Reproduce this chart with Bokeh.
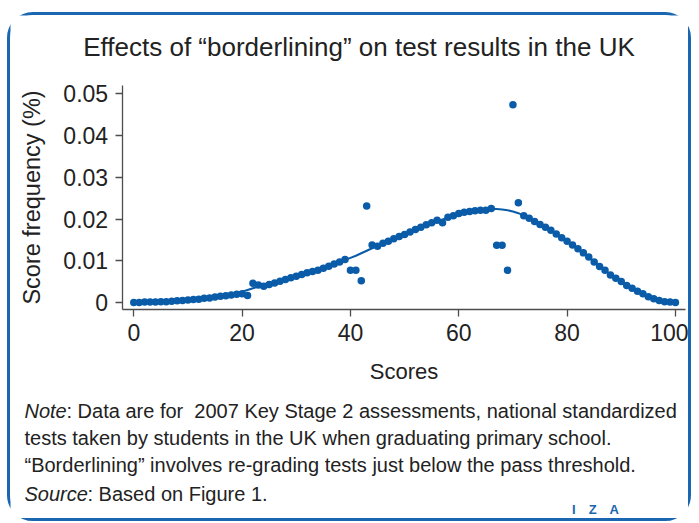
from bokeh.plotting import figure
from bokeh.models import Label, FixedTicker, Range1d, ColumnDataSource
from bokeh.embed import file_html
from bokeh.resources import INLINE

# ---------------- data ----------------
scores = list(range(0, 101))
frequency = [
    0.0000, 0.0000, 0.0001, 0.0001, 0.0001, 0.0002, 0.0002, 0.0003, 0.0004, 0.0005,
    0.0006, 0.0007, 0.0008, 0.0010, 0.0011, 0.0013, 0.0015, 0.0016, 0.0018, 0.0020,
    0.0021, 0.0017, 0.0046, 0.0042, 0.0039, 0.0043, 0.0047, 0.0051, 0.0055, 0.0059,
    0.0063, 0.0067, 0.0071, 0.0074, 0.0077, 0.0082, 0.0087, 0.0092, 0.0097, 0.0103,
    0.0077, 0.0077, 0.0052, 0.0231, 0.0138, 0.0135, 0.0142, 0.0147, 0.0153, 0.0158,
    0.0163, 0.0169, 0.0175, 0.0180, 0.0186, 0.0191, 0.0197, 0.0191, 0.0204, 0.0208,
    0.0213, 0.0216, 0.0218, 0.0220, 0.0221, 0.0221, 0.0225, 0.0137, 0.0137, 0.0077,
    0.0474, 0.0239, 0.0208, 0.0202, 0.0194, 0.0187, 0.0180, 0.0173, 0.0164, 0.0155,
    0.0147, 0.0138, 0.0129, 0.0119, 0.0109, 0.0097, 0.0086, 0.0077, 0.0066, 0.0058,
    0.0050, 0.0041, 0.0034, 0.0027, 0.0021, 0.0014, 0.0009, 0.0005, 0.0002, 0.0001,
    0.0000,
]
fit_scores = list(range(19, 101))
fit_frequency = [
    0.0023, 0.0026, 0.0030, 0.0034, 0.0038, 0.0041, 0.0045, 0.0048, 0.0052, 0.0055,
    0.0059, 0.0063, 0.0067, 0.0071, 0.0075, 0.0079, 0.0083, 0.0088, 0.0092, 0.0097,
    0.0102, 0.0107, 0.0112, 0.0118, 0.0124, 0.0130, 0.0136, 0.0141, 0.0147, 0.0152,
    0.0158, 0.0163, 0.0168, 0.0174, 0.0179, 0.0184, 0.0189, 0.0194, 0.0199, 0.0203,
    0.0207, 0.0211, 0.0215, 0.0218, 0.0220, 0.0222, 0.0223, 0.0224, 0.0224, 0.0223,
    0.0221, 0.0218, 0.0214, 0.0208, 0.0202, 0.0195, 0.0188, 0.0180, 0.0172, 0.0164,
    0.0155, 0.0147, 0.0138, 0.0128, 0.0118, 0.0108, 0.0098, 0.0087, 0.0077, 0.0067,
    0.0058, 0.0049, 0.0041, 0.0034, 0.0027, 0.0021, 0.0015, 0.0010, 0.0006, 0.0003,
    0.0001, 0.0000,
]
x_ticks = [0, 20, 40, 60, 80, 100]
x_tick_labels = ["0", "20", "40", "60", "80", "100"]
y_ticks = [0, 0.01, 0.02, 0.03, 0.04, 0.05]
y_tick_labels = ["0", "0.01", "0.02", "0.03", "0.04", "0.05"]

title_text = "Effects of \u201cborderlining\u201d on test results in the UK"
x_label = "Scores"
y_label = "Score frequency (%)"
note_lines = [
    ": Data are for \u00a02007 Key Stage 2 assessments, national standardized",
    "tests taken by students in the UK when graduating primary school.",
    "\u201cBorderlining\u201d involves re-grading tests just below the pass threshold.",
]
source_text = ": Based on Figure 1."
logo_text = "I\u2003Z\u2003A"

# ---------------- style ----------------
BLUE = "#0a5ca8"
BORDER_BLUE = "#1a66b0"
TEXT = "#222222"
AXIS = "#4d4d4d"
FONT = "Liberation Sans"

# axis extents in data units
X0, X1 = -2.15, 101.85
Y0, Y1 = -0.00175, 0.052

W, H = 684, 509
p = figure(
    width=W, height=H, output_backend="svg", toolbar_location=None,
    x_range=Range1d(-22.76, 103.52), y_range=Range1d(-0.05319, 0.06876),
    min_border=0,
)
p.styles = {
    "border": f"3px solid {BORDER_BLUE}",
    "border-radius": "26px",
    "margin-top": "12px",
    "margin-left": "7px",
    "margin-right": "2px",
}
p.outline_line_color = None
p.xgrid.visible = False
p.ygrid.visible = False
p.background_fill_color = "white"
p.border_fill_color = "white"

src = ColumnDataSource(dict(x=scores, y=frequency))
fit = ColumnDataSource(dict(x=fit_scores, y=fit_frequency))
p.line("x", "y", source=fit, line_color=BLUE, line_width=2)
p.scatter("x", "y", source=src, size=7.5, fill_color=BLUE, line_color=BLUE, line_width=0)

for ax in (p.xaxis[0], p.yaxis[0]):
    ax.axis_line_color = AXIS
    ax.axis_line_width = 1.3
    ax.major_tick_line_color = AXIS
    ax.major_tick_line_width = 1.3
    ax.major_tick_out = 7
    ax.major_tick_in = 0
    ax.minor_tick_line_color = None
    ax.major_label_text_font = FONT
    ax.major_label_text_font_size = "23px"
    ax.major_label_text_color = TEXT
    ax.axis_label_text_font = FONT
    ax.axis_label_text_font_style = "normal"
    ax.axis_label_text_color = TEXT

p.xaxis.axis_label_text_font_size = "22px"
p.yaxis.axis_label_text_font_size = "23.5px"
p.xaxis.fixed_location = Y0
p.xaxis.bounds = (X0, X1)
p.yaxis.fixed_location = X0
p.yaxis.bounds = (Y0, Y1)
p.xaxis.ticker = FixedTicker(ticks=x_ticks)
p.xaxis.major_label_overrides = dict(zip(x_ticks, x_tick_labels))
p.yaxis.ticker = FixedTicker(ticks=y_ticks)
p.yaxis.major_label_overrides = dict(zip(y_ticks, y_tick_labels))
p.xaxis.axis_label = x_label
p.yaxis.axis_label = y_label
p.xaxis.major_label_standoff = 7
p.xaxis.axis_label_standoff = 15
p.yaxis.major_label_standoff = 7
p.yaxis.axis_label_standoff = 16

# title (screen units from the frame's bottom-left corner)
p.add_layout(Label(x=348.5, y=478, x_units="screen", y_units="screen", text=title_text,
                   text_align="center", text_baseline="middle", text_font=FONT,
                   text_font_size="26px", text_color=TEXT))

# notes
nx = 14
NOTE_SIZE = "20px"
p.add_layout(Label(x=nx, y=114, x_units="screen", y_units="screen", text="Note",
                   text_baseline="middle", text_font=FONT, text_font_style="italic",
                   text_font_size=NOTE_SIZE, text_color=TEXT))
p.add_layout(Label(x=nx + 42, y=114, x_units="screen", y_units="screen", text=note_lines[0],
                   text_baseline="middle", text_font=FONT,
                   text_font_size=NOTE_SIZE, text_color=TEXT))
for i, ln in enumerate(note_lines[1:]):
    p.add_layout(Label(x=nx, y=87 - 27 * i, x_units="screen", y_units="screen", text=ln,
                       text_baseline="middle", text_font=FONT,
                       text_font_size=NOTE_SIZE, text_color=TEXT))
p.add_layout(Label(x=nx, y=31, x_units="screen", y_units="screen", text="Source",
                   text_baseline="middle", text_font=FONT, text_font_style="italic",
                   text_font_size=NOTE_SIZE, text_color=TEXT))
p.add_layout(Label(x=nx + 63, y=31, x_units="screen", y_units="screen", text=source_text,
                   text_baseline="middle", text_font=FONT,
                   text_font_size=NOTE_SIZE, text_color=TEXT))
p.add_layout(Label(x=585, y=15, x_units="screen", y_units="screen", text=logo_text,
                   text_align="center", text_baseline="middle", text_font=FONT,
                   text_font_style="bold", text_font_size="13px", text_color=BORDER_BLUE))

open("out.html", "w").write(file_html(p, INLINE))
